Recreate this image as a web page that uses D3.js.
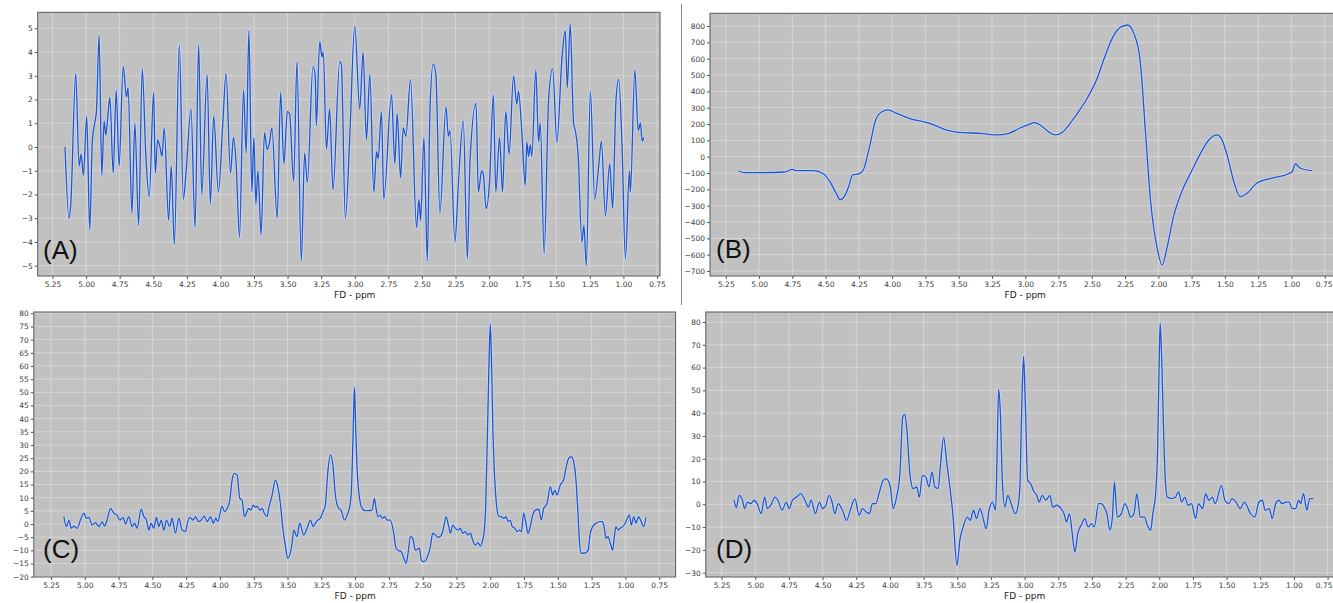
<!DOCTYPE html>
<html>
<head>
<meta charset="utf-8">
<script src="https://cdn.jsdelivr.net/npm/d3@7"></script>
<style>
  html, body { margin: 0; padding: 0; background: #fff; }
  svg { display: block; }
  .tick text { font-family: "DejaVu Sans", sans-serif; font-size: 7.5px; fill: #3a3a3a; }
  .tick line { stroke: #555; }
  .axis-title { font-family: "DejaVu Sans", sans-serif; font-size: 9px; fill: #222; }
  .letter { font-family: "Liberation Sans", Arial, sans-serif; font-size: 26px; fill: #111; }
</style>
</head>
<body>
<svg id="chart" width="1333" height="603"></svg>
<script>
// ---- data (ppm, intensity) -----------------------------------------
const X_TICKS = d3.range(0, 19).map(i => +(5.25 - i * 0.25).toFixed(2));
const A_TICKS = d3.range(-5, 6, 1);
const B_TICKS = d3.range(-700, 801, 100);
const C_TICKS = d3.range(-20, 81, 5);
const D_TICKS = d3.range(-30, 81, 10);

const seriesA = [
  [5.157,0.0],[5.127,-3.0],[5.115,-2.5],[5.077,3.1],[5.052,-0.8],[5.037,-0.3],[5.020,-1.2],
  [4.995,1.3],[4.973,-3.5],[4.953,0.3],[4.933,1.1],[4.923,1.5],[4.903,4.7],[4.883,-1.2],
  [4.866,1.1],[4.853,0.5],[4.838,1.3],[4.823,2.1],[4.798,-1.1],[4.776,2.4],[4.754,-0.8],
  [4.724,3.4],[4.699,2.1],[4.687,2.5],[4.659,-2.8],[4.637,1.0],[4.609,-3.3],[4.582,3.3],
  [4.555,-0.4],[4.530,-2.1],[4.497,2.3],[4.485,-1.1],[4.467,0.3],[4.450,0.0],[4.435,-0.4],
  [4.418,0.8],[4.386,-3.1],[4.366,-0.8],[4.343,-4.1],[4.306,4.3],[4.276,-2.2],[4.255,-1.0],
  [4.219,1.6],[4.189,-3.4],[4.162,4.3],[4.139,-2.0],[4.099,3.05],[4.075,-2.4],[4.050,1.3],
  [4.015,-1.9],[3.983,0.9],[3.958,3.1],[3.925,-1.1],[3.903,0.4],[3.883,-0.7],[3.858,-3.8],
  [3.828,2.4],[3.808,-0.25],[3.788,4.9],[3.766,-1.9],[3.751,0.4],[3.736,-2.4],[3.721,-1.0],
  [3.697,-3.7],[3.672,0.6],[3.652,-0.1],[3.634,0.2],[3.617,0.8],[3.577,-3.0],[3.552,2.3],
  [3.527,-0.7],[3.502,1.5],[3.485,1.4],[3.455,-1.45],[3.430,3.6],[3.398,-4.8],[3.373,-0.25],
  [3.353,-1.5],[3.311,3.4],[3.294,3.0],[3.286,0.9],[3.261,4.45],[3.244,3.8],[3.234,4.0],
  [3.211,-0.1],[3.187,1.6],[3.162,-1.8],[3.112,3.6],[3.100,3.5],[3.070,-3.0],[3.037,0.45],
  [3.000,5.1],[2.963,1.6],[2.938,4.0],[2.913,0.3],[2.888,3.05],[2.858,-1.9],[2.838,-0.2],
  [2.826,-0.5],[2.801,1.5],[2.784,-2.2],[2.726,2.2],[2.702,-0.7],[2.684,1.4],[2.659,-1.3],
  [2.639,0.8],[2.619,0.45],[2.585,2.85],[2.540,-3.4],[2.522,-2.2],[2.510,-3.1],[2.485,0.4],
  [2.460,-4.8],[2.440,1.6],[2.416,3.5],[2.396,3.05],[2.366,-2.8],[2.321,1.7],[2.303,0.45],
  [2.291,0.7],[2.254,-4.0],[2.229,-1.6],[2.192,1.1],[2.162,-4.7],[2.142,-0.6],[2.097,1.85],
  [2.080,-1.9],[2.055,-1.0],[2.044,-1.1],[2.022,-2.6],[1.997,-1.5],[1.968,2.2],[1.950,-1.9],
  [1.922,0.4],[1.900,-1.9],[1.876,1.5],[1.851,-0.3],[1.818,3.0],[1.794,1.8],[1.781,2.35],
  [1.756,0.6],[1.731,-1.6],[1.719,0.2],[1.706,-0.4],[1.694,0.1],[1.682,-0.4],[1.652,3.25],
  [1.632,0.2],[1.619,1.0],[1.590,-4.5],[1.557,2.0],[1.527,3.3],[1.495,0.2],[1.458,3.7],
  [1.433,4.9],[1.418,2.5],[1.396,5.2],[1.371,1.0],[1.358,0.7],[1.338,-0.25],[1.309,-4.0],
  [1.294,-3.3],[1.276,-5.0],[1.246,2.35],[1.214,-2.2],[1.184,-0.8],[1.164,0.25],[1.134,-2.9],
  [1.102,-0.7],[1.080,-2.6],[1.055,2.0],[1.035,2.85],[1.010,0.0],[0.985,-4.7],[0.955,-1.0],
  [0.948,-1.9],[0.915,3.25],[0.890,0.7],[0.873,1.0],[0.861,0.25],[0.848,0.4]
];

const seriesB = [
  [5.156,-86],[5.11,-98],[4.968,-98],[4.81,-94],[4.75,-78],[4.72,-86],[4.59,-86],[4.515,-106],
  [4.468,-153],[4.421,-224],[4.39,-265],[4.36,-245],[4.327,-184],[4.296,-112],[4.249,-106],
  [4.217,-82],[4.17,61],[4.124,224],[4.077,275],[4.03,286],[3.967,265],[3.873,235],[3.717,204],
  [3.592,163],[3.467,147],[3.341,143],[3.216,133],[3.122,143],[3.044,174],[2.981,194],
  [2.928,208],[2.888,194],[2.825,153],[2.778,133],[2.716,153],[2.653,214],[2.59,286],
  [2.528,367],[2.465,469],[2.402,612],[2.34,735],[2.277,796],[2.23,806],[2.184,755],
  [2.137,592],[2.096,143],[2.059,-265],[2.011,-551],[1.971,-663],[1.933,-551],[1.886,-367],
  [1.824,-214],[1.746,-82],[1.683,20],[1.621,102],[1.558,133],[1.527,112],[1.48,0],
  [1.433,-153],[1.386,-245],[1.339,-229],[1.261,-163],[1.152,-133],[1.026,-106],[0.995,-92],
  [0.97,-45],[0.932,-71],[0.845,-86]
];

const seriesC = [
  [5.155,2.8],[5.135,-1.0],[5.117,1.5],[5.1,-1.6],[5.081,-0.8],[5.056,-1.6],[5.032,1.5],
  [5.007,4.1],[4.988,2.2],[4.97,2.5],[4.945,-0.4],[4.921,0.5],[4.896,-1.0],[4.871,0.9],
  [4.854,-0.8],[4.835,1.5],[4.81,5.9],[4.785,4.1],[4.761,3.4],[4.741,1.5],[4.716,2.5],
  [4.699,0],[4.674,2.8],[4.65,-1.0],[4.632,0.3],[4.613,-1.6],[4.583,5.6],[4.563,2.8],
  [4.544,1.5],[4.526,-2.3],[4.509,0.3],[4.49,-1.6],[4.47,2.5],[4.452,-1.0],[4.435,1.5],
  [4.415,-2.3],[4.396,1.5],[4.371,-1.0],[4.354,2.2],[4.329,-3.5],[4.304,2.2],[4.28,-2.3],
  [4.255,-2.9],[4.238,0.9],[4.223,2.5],[4.198,1.5],[4.181,2.8],[4.156,0.9],[4.139,1.5],
  [4.115,3.0],[4.095,0.9],[4.07,2.8],[4.05,0.3],[4.031,2.2],[4.016,0.9],[3.984,6.8],
  [3.967,4.7],[3.947,5.9],[3.927,9.1],[3.91,16.7],[3.893,19.2],[3.873,18.6],[3.853,9.7],
  [3.836,9.1],[3.819,2.8],[3.787,5.9],[3.77,5.3],[3.755,7.2],[3.737,6.3],[3.725,6.8],
  [3.705,5.3],[3.688,5.9],[3.671,4.0],[3.651,2.8],[3.639,5.9],[3.614,11.0],[3.59,16.7],
  [3.572,14.2],[3.553,7.8],[3.533,-2.3],[3.515,-8.6],[3.498,-13.0],[3.484,-11.8],[3.466,-7.3],
  [3.454,-2.3],[3.43,-4.8],[3.41,0.3],[3.38,-4.2],[3.355,-1.6],[3.33,1.5],[3.311,-1.0],
  [3.294,0.3],[3.276,1.5],[3.257,2.2],[3.237,4.7],[3.22,7.2],[3.203,19.2],[3.182,26.2],
  [3.163,21.8],[3.146,11.0],[3.121,5.9],[3.104,5.3],[3.079,1.5],[3.059,3.4],[3.04,6.6],
  [3.028,12],[3.016,32],[3.005,52],[2.995,36],[2.986,22],[2.973,12.3],[2.961,7.8],[2.944,5.6],
  [2.924,5.1],[2.899,5.1],[2.875,5.3],[2.857,9.7],[2.845,5.9],[2.83,2.8],[2.813,3.4],[2.8,2.2],
  [2.781,2.8],[2.764,1.5],[2.739,1.5],[2.714,-3.5],[2.697,-9.2],[2.678,-10.1],[2.658,-10.5],
  [2.64,-13.0],[2.623,-14.9],[2.608,-11.1],[2.591,-4.8],[2.574,-5.4],[2.554,-9.9],[2.525,-9.2],
  [2.51,-13.7],[2.492,-14.3],[2.46,-11.8],[2.443,-8.6],[2.426,-3.5],[2.406,-4.2],[2.386,-5.1],
  [2.362,-4.2],[2.344,-1.0],[2.327,2.8],[2.307,-1.0],[2.295,-3.5],[2.278,-0.4],[2.258,-1.6],
  [2.238,-2.3],[2.221,-1.6],[2.204,-3.5],[2.184,-2.9],[2.165,-4.2],[2.147,-3.5],[2.13,-6.1],
  [2.11,-8.0],[2.09,-7.1],[2.073,-8.4],[2.056,-6.1],[2.045,-3],[2.035,5],[2.025,25],[2.012,55],
  [2.0,76],[1.99,60],[1.98,35],[1.968,18],[1.955,8],[1.938,3],[1.918,2.8],[1.9,2.2],
  [1.883,2.8],[1.869,0.9],[1.852,1.5],[1.839,-0.8],[1.819,-1.6],[1.802,-2.9],[1.785,-2.3],
  [1.77,-2.9],[1.753,4.1],[1.736,0.3],[1.721,-3.5],[1.704,-1.0],[1.686,3.4],[1.666,5.3],
  [1.642,5.6],[1.622,1.5],[1.605,5.9],[1.58,7.8],[1.555,14.2],[1.538,11.0],[1.523,12.9],
  [1.506,11.0],[1.482,14.8],[1.457,16.7],[1.44,21.1],[1.42,24.9],[1.4,25.6],[1.383,23.7],
  [1.366,16.7],[1.351,4.1],[1.341,-6.1],[1.326,-11.1],[1.302,-11.1],[1.277,-10.1],[1.26,-3.5],
  [1.242,-1.0],[1.218,0.3],[1.186,0.9],[1.169,0.9],[1.154,-2.3],[1.144,-5.4],[1.129,-4.8],
  [1.112,-7.3],[1.094,-9.9],[1.085,-6.1],[1.07,-1.0],[1.055,-2.3],[1.038,-1.6],[1.02,-1.0],
  [1.001,0.3],[0.971,3.4],[0.956,-0.4],[0.939,2.8],[0.922,0.3],[0.902,2.8],[0.883,0.9],
  [0.865,-1.0],[0.848,2.5]
];

const seriesD = [
  [5.157,1.8],[5.141,-1.5],[5.12,3.9],[5.095,1.8],[5.08,-1.9],[5.058,1.0],[5.033,0.3],
  [5.008,1.8],[4.986,0.3],[4.956,-4.1],[4.931,3.2],[4.91,-1.9],[4.885,-0.4],[4.854,3.2],
  [4.832,1.8],[4.801,-2.6],[4.77,1.0],[4.748,-1.9],[4.724,1.8],[4.693,3.2],[4.662,4.7],
  [4.631,1.8],[4.606,-1.2],[4.585,1.8],[4.554,-4.1],[4.523,1.0],[4.501,-1.9],[4.476,-0.4],
  [4.452,3.9],[4.43,1.0],[4.409,-4.1],[4.384,0.3],[4.353,-2.6],[4.322,-7.0],[4.291,-1.9],
  [4.26,2.5],[4.229,-4.8],[4.204,-1.9],[4.173,-3.5],[4.152,-4.1],[4.13,0.3],[4.105,0.3],
  [4.081,4.7],[4.05,10.5],[4.028,11.3],[3.997,7.6],[3.976,-1.9],[3.951,3.2],[3.926,13.5],
  [3.905,38.3],[3.889,39.5],[3.874,32.5],[3.852,13.5],[3.827,6.9],[3.802,7.6],[3.781,3.2],
  [3.759,12.7],[3.734,12.0],[3.71,7.6],[3.688,14.2],[3.666,7.6],[3.642,6.9],[3.626,16.4],
  [3.601,29.5],[3.58,19.3],[3.555,7.6],[3.533,-4.1],[3.502,-26.8],[3.481,-15.8],[3.456,-9.9],
  [3.425,-5.6],[3.404,-7.0],[3.379,-2.6],[3.357,-6.3],[3.332,-1.9],[3.31,-5.6],[3.286,-10.7],
  [3.264,-2.6],[3.239,1.0],[3.215,-2.6],[3.205,20],[3.193,50.5],[3.18,40],[3.165,10],
  [3.147,-1.2],[3.125,3.9],[3.1,0.3],[3.069,-4.1],[3.048,-0.4],[3.035,8],[3.022,40],
  [3.008,65],[2.995,45],[2.977,10.5],[2.955,9.1],[2.93,5.4],[2.909,3.9],[2.893,1.0],
  [2.868,3.9],[2.843,1.8],[2.812,3.9],[2.791,-1.2],[2.76,-0.4],[2.729,-1.9],[2.707,-4.1],
  [2.689,-7.7],[2.667,-4.1],[2.646,-12.9],[2.627,-20.9],[2.605,-12.9],[2.574,-8.5],
  [2.553,-6.3],[2.528,-9.9],[2.503,-8.5],[2.482,-9.9],[2.451,0.3],[2.429,0.3],[2.41,-1.2],
  [2.389,-4.1],[2.367,-11.4],[2.348,-5.6],[2.333,9.8],[2.312,-5.6],[2.281,-4.1],[2.256,0.3],
  [2.235,-1.9],[2.213,-5.6],[2.188,-4.1],[2.166,4.7],[2.141,-5.6],[2.11,-5.6],[2.089,-9.2],
  [2.064,-11.4],[2.048,-4.1],[2.027,4.7],[2.012,25],[2.0,65],[1.993,79.5],[1.98,60],
  [1.966,28],[1.952,8],[1.94,3.2],[1.909,2.5],[1.879,3.2],[1.857,5.4],[1.833,1.0],
  [1.811,3.2],[1.786,-0.4],[1.761,0.3],[1.73,-6.3],[1.709,0.3],[1.678,-1.9],[1.656,4.7],
  [1.631,1.8],[1.606,3.2],[1.585,0.3],[1.538,8.3],[1.513,1.8],[1.482,0.3],[1.461,2.5],
  [1.43,1.0],[1.399,-1.9],[1.368,1.0],[1.322,-4.1],[1.291,-5.6],[1.26,1.0],[1.235,1.8],
  [1.214,-2.6],[1.183,-1.9],[1.161,-6.3],[1.136,0.3],[1.111,1.8],[1.09,0.3],[1.059,1.0],
  [1.037,1.0],[1.012,-1.9],[0.987,-1.9],[0.966,1.8],[0.95,0.3],[0.929,4.7],[0.904,-2.6],
  [0.883,2.5],[0.858,2.5]
];

// ---- layout: frame box plus two anchor ticks per axis -------------------
const PANELS = [
  { letter: "(A)", data: seriesA, yTicks: A_TICKS,
    frame: [37.7, 12.3, 660, 276], xr: [52.5, 657], yd: [5, -5], yr: [28.3, 265.7],
    letterPos: [43, 259], titleY: 298 },
  { letter: "(B)", data: seriesB, yTicks: B_TICKS,
    frame: [710, 13.3, 1345, 276], xr: [725.8, 1324.7], yd: [800, -700], yr: [26, 271],
    letterPos: [716, 258], titleY: 298 },
  { letter: "(C)", data: seriesC, yTicks: C_TICKS,
    frame: [33.8, 312, 675.6, 577], xr: [51, 659.2], yd: [80, -20], yr: [313.3, 576.7],
    letterPos: [43, 558], titleY: 599 },
  { letter: "(D)", data: seriesD, yTicks: D_TICKS,
    frame: [705.8, 312, 1345, 577], xr: [721.6, 1327.6], yd: [80, -30], yr: [322, 572.7],
    letterPos: [716, 558], titleY: 599 }
];

const svg = d3.select("#chart");
const W = 1333;

// thin divider between the two top panels
svg.append("line")
  .attr("x1", 681.5).attr("x2", 681.5).attr("y1", 4).attr("y2", 305)
  .attr("stroke", "#8a8a8a").attr("stroke-width", 1);

PANELS.forEach((p, i) => {
  const [fx0, fy0, fx1, fy1] = p.frame;
  const x = d3.scaleLinear().domain([5.25, 0.75]).range(p.xr);
  const y = d3.scaleLinear().domain(p.yd).range(p.yr);
  const g = svg.append("g");

  const clipId = "clip" + i;
  g.append("clipPath").attr("id", clipId)
    .append("rect").attr("x", fx0).attr("y", fy0)
    .attr("width", fx1 - fx0).attr("height", fy1 - fy0);

  g.append("rect")
    .attr("x", fx0).attr("y", fy0)
    .attr("width", fx1 - fx0).attr("height", fy1 - fy0)
    .attr("fill", "#c1c1c1");

  // grid
  const grid = g.append("g").attr("clip-path", `url(#${clipId})`)
    .attr("stroke", "#dedede").attr("stroke-width", 0.8).attr("opacity", 0.85);
  grid.selectAll("line.v").data(X_TICKS).join("line")
    .attr("x1", d => x(d)).attr("x2", d => x(d)).attr("y1", fy0).attr("y2", fy1);
  grid.selectAll("line.h").data(p.yTicks).join("line")
    .attr("x1", fx0).attr("x2", fx1).attr("y1", d => y(d)).attr("y2", d => y(d));

  // spectrum line with its light halo
  const line = d3.line().x(d => x(d[0])).y(d => y(d[1])).curve(d3.curveMonotoneX);
  const lg = g.append("g").attr("clip-path", `url(#${clipId})`);
  lg.append("path").datum(p.data).attr("d", line)
    .attr("fill", "none").attr("stroke", "#c9d8f2").attr("stroke-width", 2.8)
    .attr("stroke-linejoin", "round");
  lg.append("path").datum(p.data).attr("d", line)
    .attr("fill", "none").attr("stroke", "#2453c2").attr("stroke-width", 1.3)
    .attr("stroke-linejoin", "round");

  // frame
  g.append("rect")
    .attr("x", fx0).attr("y", fy0)
    .attr("width", fx1 - fx0).attr("height", fy1 - fy0)
    .attr("fill", "none").attr("stroke", "#5a5a5a").attr("stroke-width", 1);

  // axes
  const xAxis = d3.axisBottom(x).tickValues(X_TICKS).tickFormat(d3.format(".2f"))
    .tickSize(3).tickPadding(3);
  const xg = g.append("g").attr("transform", `translate(0,${fy1})`).call(xAxis)
    .call(a => a.select(".domain").remove());
  // keep the last label inside the page where the frame runs off the edge
  xg.selectAll(".tick").each(function (d) {
    const t = d3.select(this).select("text");
    const half = t.node().getBBox().width / 2;
    if (x(d) + half > W - 1) {
      t.attr("text-anchor", "end").attr("x", W - 1 - x(d));
    }
  });

  const yAxis = d3.axisLeft(y).tickValues(p.yTicks).tickFormat(d3.format("d"))
    .tickSize(3).tickPadding(2);
  g.append("g").attr("transform", `translate(${fx0},0)`).call(yAxis)
    .call(a => a.select(".domain").remove());

  g.append("text").attr("class", "axis-title")
    .attr("x", x(3.0)).attr("y", p.titleY)
    .attr("text-anchor", "middle")
    .text("FD - ppm");

  g.append("text").attr("class", "letter")
    .attr("x", p.letterPos[0]).attr("y", p.letterPos[1])
    .text(p.letter);
});
</script>
</body>
</html>
